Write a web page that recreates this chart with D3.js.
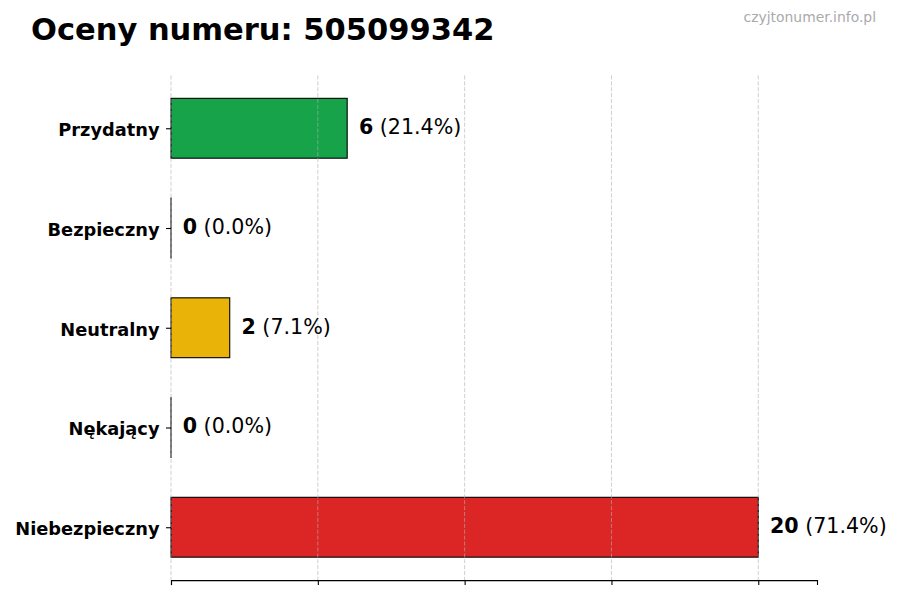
<!DOCTYPE html>
<html><head><meta charset="utf-8">
<script src="https://cdn.jsdelivr.net/npm/d3@7"></script>
<style>body{margin:0;background:#fff}svg{display:block;font-family:"DejaVu Sans",sans-serif}</style>
</head><body>
<svg id="c" width="900" height="600"></svg>
<script>
const categories = ["Przydatny","Bezpieczny","Neutralny","Nękający","Niebezpieczny"];
const values = [6,0,2,0,20];
const colors = ["#16a34a","#2563eb","#eab308","#ea580c","#dc2626"];
const xTicks = [0,5,10,15,20];
const title = "Oceny numeru: 505099342";
const watermark = "czyjtonumer.info.pl";

(function(){
const svg = d3.select("#c");
const total = d3.sum(values);
const mLeft = 171, mRight = 817, mTop = 75.4, mBottom = 580.1;
const x = d3.scaleLinear().domain([0, 22]).range([mLeft, mRight]);
const y = d3.scaleLinear().domain([-0.53, 4.53]).range([mTop, mBottom]);
const barH = 0.6;

svg.append("g").selectAll("rect").data(values).join("rect")
  .attr("x", x(0))
  .attr("y", (d,i) => y(i - barH/2))
  .attr("width", d => Math.max(x(d) - x(0), 0.01))
  .attr("height", (d,i) => y(i + barH/2) - y(i - barH/2))
  .attr("fill", (d,i) => colors[i])
  .attr("stroke", "#000").attr("stroke-width", 1.1);

svg.append("g").selectAll("line").data(xTicks).join("line")
  .attr("x1", d => x(d)).attr("x2", d => x(d))
  .attr("y1", mTop).attr("y2", mBottom)
  .attr("stroke", "#b0b0b0").attr("stroke-opacity", 0.6)
  .attr("stroke-width", 1).attr("stroke-dasharray", "4.1,1.8");

const xAxis = d3.axisBottom(x).tickValues(xTicks).tickFormat("").tickSizeOuter(0).tickSize(5);
const gx = svg.append("g").attr("transform", `translate(0,${mBottom})`).call(xAxis);
gx.select(".domain").attr("stroke", "#000").attr("stroke-width", 1.1);
gx.selectAll(".tick line").attr("stroke", "#000").attr("stroke-width", 1.1);

const yCat = d3.scaleOrdinal().domain(categories).range(categories.map((c,i) => y(i)));
const gy = svg.append("g").attr("transform", `translate(${mLeft},0)`)
  .call(d3.axisLeft(yCat).tickSize(5).tickPadding(6.5));
gy.select(".domain").remove();
gy.selectAll(".tick line").attr("stroke", "#000").attr("stroke-width", 1.1);
gy.selectAll(".tick text").attr("font-size", "17.8px").attr("font-weight", "bold")
  .attr("fill", "#000").attr("font-family", "DejaVu Sans").attr("dy", "0.41em");

const lab = svg.append("g").selectAll("text").data(values).join("text")
  .attr("x", d => x(d + 0.4))
  .attr("y", (d,i) => y(i))
  .attr("dy", "0.29em")
  .attr("font-size", "20.6px").attr("fill", "#000");
lab.append("tspan").attr("font-weight", "bold").text(d => d);
lab.append("tspan").text(d => " (" + (d/total*100).toFixed(1) + "%)");

svg.append("text").attr("x", 31).attr("y", 40)
  .attr("font-size", "30.5px").attr("font-weight", "bold").attr("fill", "#000")
  .text(title);

svg.append("text").attr("x", 876).attr("y", 22).attr("text-anchor", "end")
  .attr("font-size", "13.9px").attr("fill", "#aaaaaa")
  .text(watermark);
})();
</script>
</body></html>
